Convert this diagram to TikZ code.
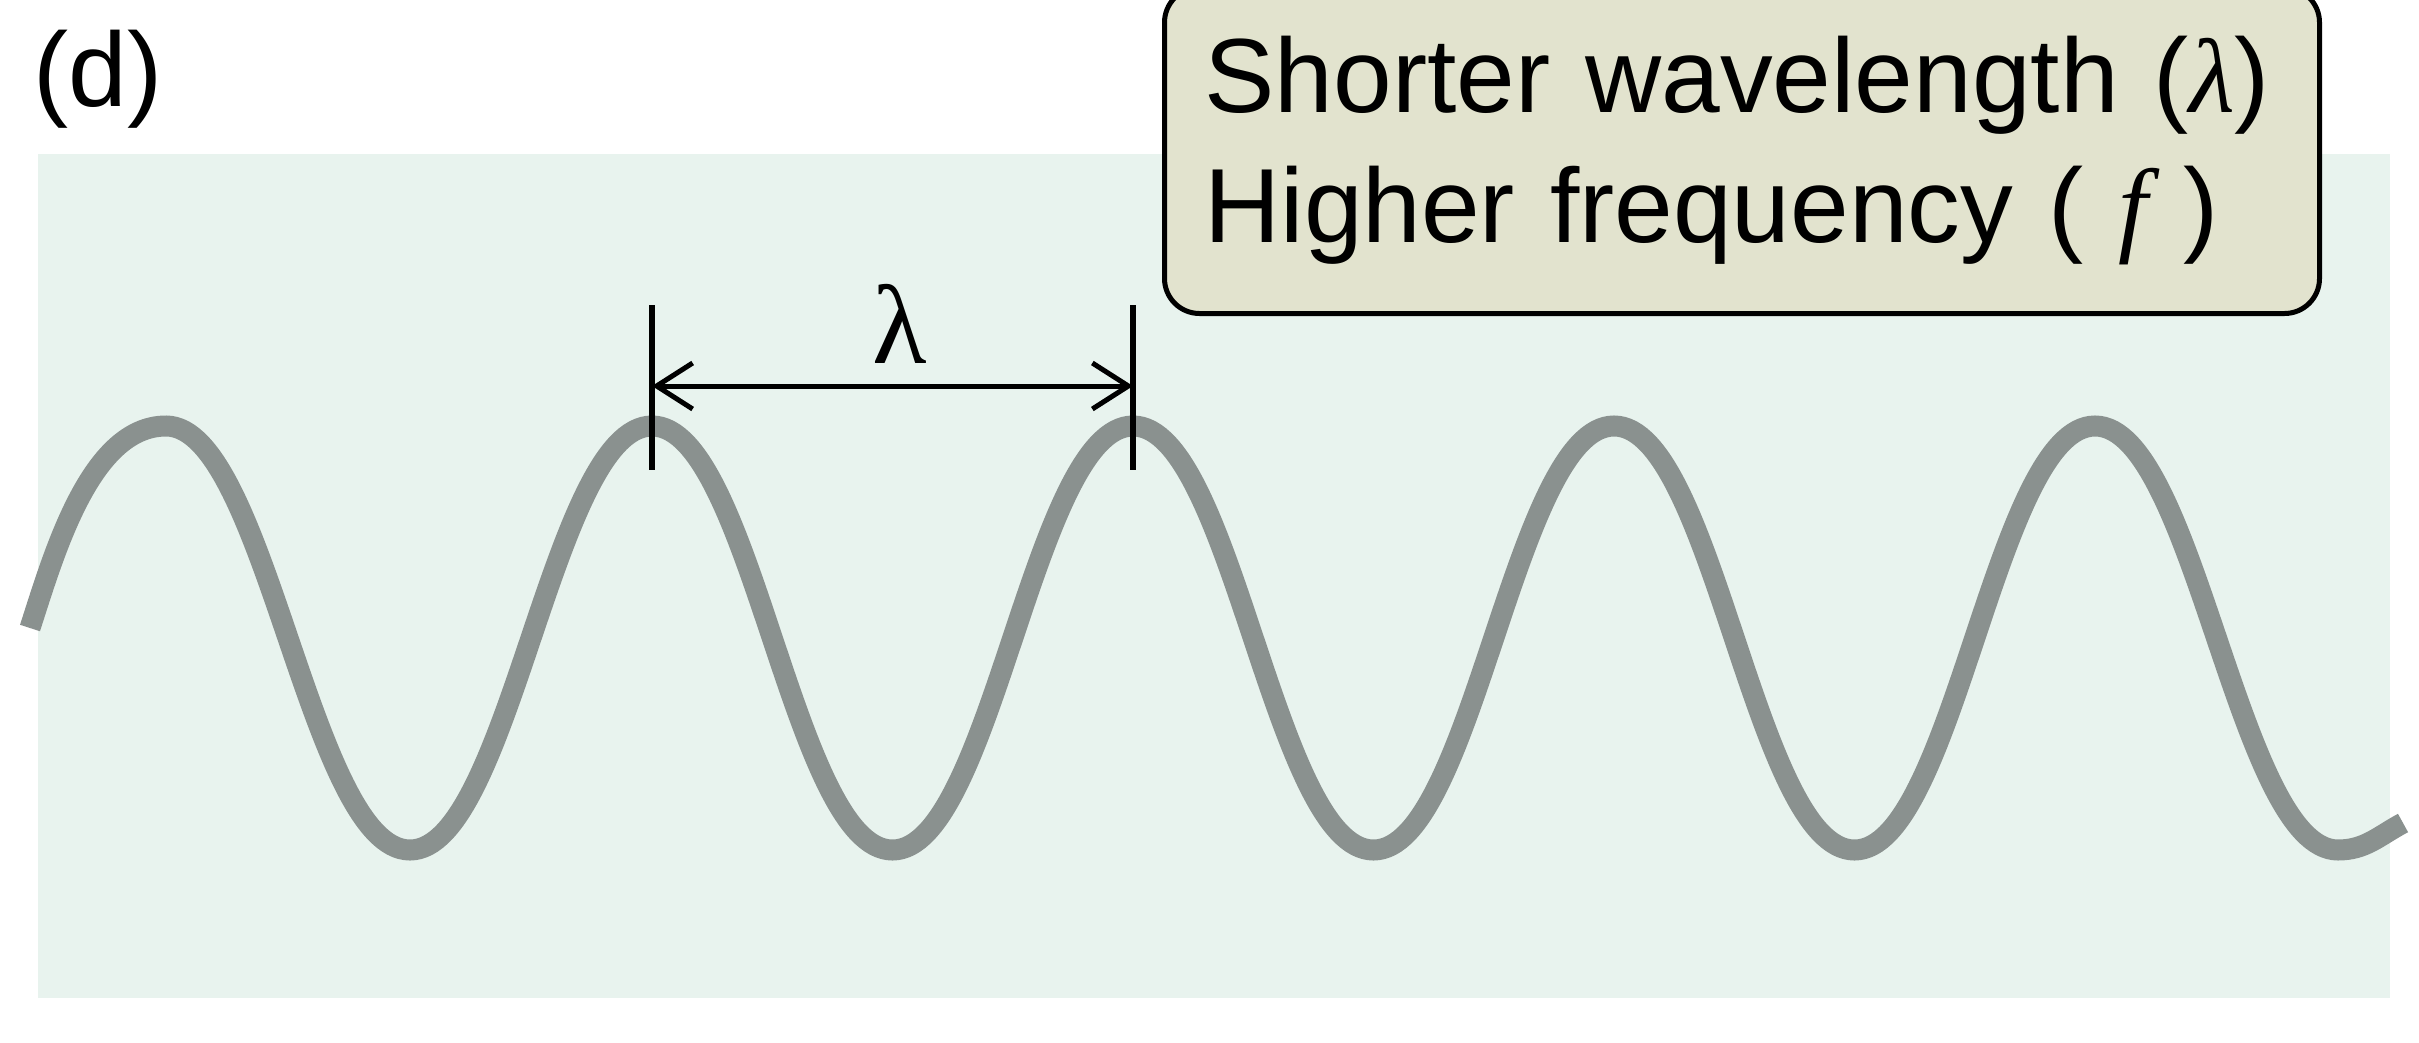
\documentclass[tikz,border=0pt]{standalone}
\usepackage{fontspec}
\setmainfont{Liberation Sans}
\newfontfamily\grkfont{Liberation Serif}
\usetikzlibrary{arrows.meta}
\definecolor{MintBg}{HTML}{E8F3EE}
\definecolor{WaveGray}{HTML}{8A918F}
\definecolor{NoteFill}{HTML}{E2E3CE}

\begin{document}
\begin{tikzpicture}[
          notebox/.style={rectangle, rounded corners=0.35cm, draw=black, fill=NoteFill, line width=0.05cm,
                        minimum width=11.55cm, minimum height=3.26cm, text width=10.75cm,
                        inner xsep=0.4cm, align=left, font=\fontsize{30}{37}\selectfont},
          wave/.style={draw=WaveGray, line width=0.21cm},
          hump/.style={out=0, in=180, looseness=0.52},
          tickln/.style={draw=black, line width=0.06cm},
          dimarr/.style={{Straight Barb[length=0.36cm, width=0.46cm]}-{Straight Barb[length=0.36cm, width=0.46cm]}, line width=0.05cm},
          lamlbl/.style={inner sep=0pt, font=\grkfont\fontsize{32}{38}\selectfont}
        ]
          \useasboundingbox (0,0) rectangle (24.19,-10.42);
          \clip (0,0) rectangle (24.19,-10.42);
          % panel background
          \fill[MintBg] (0.38,-1.54) rectangle (23.90,-9.98);
          \node[anchor=base west, inner sep=0pt, font=\fontsize{30}{36}\selectfont] (tag) at (0.33,-1.06) {(d)};
          % the wave
          \draw[wave] (0.30,-6.28) to[out=72, in=180, looseness=0.8] (1.66,-4.26)
            to[hump] (4.10,-8.50) to[hump] (6.52,-4.26) to[hump] (8.925,-8.50) to[hump] (11.33,-4.26)
            to[hump] (13.735,-8.50) to[hump] (16.14,-4.26) to[hump] (18.545,-8.50) to[hump] (20.95,-4.26)
            to[hump] (23.38,-8.50) to[out=0, in=208, looseness=1] (24.03,-8.23);
          % wavelength marker
          \coordinate (tkLtop) at (6.52,-3.05);  \coordinate (tkLbot) at (6.52,-4.70);
          \coordinate (tkRtop) at (11.33,-3.05); \coordinate (tkRbot) at (11.33,-4.70);
          \coordinate (arL) at (6.52,-3.86);     \coordinate (arR) at (11.33,-3.86);
          \draw[tickln] (tkLtop) -- (tkLbot);
          \draw[tickln] (tkRtop) -- (tkRbot);
          \draw[dimarr] (arL) -- (arR);
          \node[lamlbl, anchor=base] (lam) at (9.00,-3.63) {λ};
          % legend box
          \node[notebox, anchor=north west] (note) at (11.62,0.15)
            {Shorter wavelength ({\grkfont\itshape λ})\\Higher frequency ( {\grkfont\itshape f} )};
        \end{tikzpicture}
\end{document}
